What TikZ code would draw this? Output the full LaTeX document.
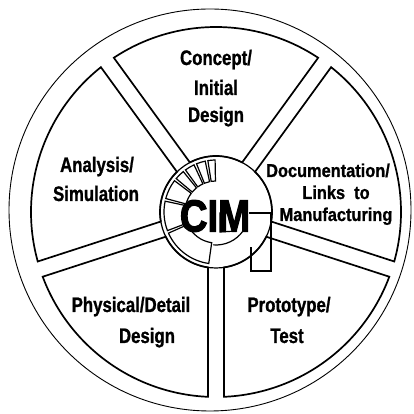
\documentclass[tikz,border=0pt]{standalone}
\usepackage{fontspec}
\newfontfamily\labfont[FakeStretch=0.8, FakeBold=1]{Liberation Sans Bold}
\newfontfamily\docfont[FakeStretch=0.88, FakeBold=1]{Liberation Sans Bold}
\newfontfamily\cimfont[FakeStretch=0.85, FakeBold=2.5]{Liberation Sans Bold}
\begin{document}
\begin{tikzpicture}[x=1pt,y=1pt,
  sector/.style={draw=black, line width=1.7pt, line join=miter},
  rim/.style={draw=black, line width=0.9pt},
  hubline/.style={draw=black, line width=1.2pt},
  lab/.style={font={\labfont\fontsize{21}{25}\selectfont}, inner sep=0pt, anchor=base},
  doclab/.style={font={\docfont\fontsize{18.6}{22}\selectfont}, inner sep=0pt, anchor=base},
  cimlab/.style={font={\cimfont\fontsize{45}{50}\selectfont}, inner sep=0pt, anchor=base}]
\useasboundingbox (0,0) rectangle (413,414);
\coordinate (H) at (216,202);
\coordinate (O) at (210,204);
% outer rim
\draw[rim] (O) circle[radius=201pt];
% five sectors
\foreach \a/\b in {-90/-18, -18/54, 54/126, 126/198, 198/270} {
  \pgfmathsetmacro\ai{\a+8.21}
  \pgfmathsetmacro\ao{\a+2.48}
  \pgfmathsetmacro\bo{\b-2.48}
  \pgfmathsetmacro\bi{\b-8.21}
  \draw[sector] ([shift={(\ai:56pt)}]H) -- ([shift={(\ao:185pt)}]H)
    arc[start angle=\ao, end angle=\bo, radius=185pt]
    -- ([shift={(\bi:56pt)}]H)
    arc[start angle=\bi, end angle=\ai, radius=56pt] -- cycle;
}
% hub
\draw[hubline] (H) circle[radius=56pt];
\foreach \a/\b in {91/99, 102/112, 115/126, 129/140, 143/165, 168/201, 204/262} {
  \draw[hubline] ([shift={(\a:31pt)}]H) -- ([shift={(\a:52pt)}]H)
    arc[start angle=\a, end angle=\b, radius=52pt]
    -- ([shift={(\b:31pt)}]H)
    arc[start angle=\b, end angle=\a, radius=31pt] -- cycle;
}
\draw[hubline] ([shift={(265:33pt)}]H) arc[start angle=265, end angle=325, radius=33pt];
\draw[hubline] (249,201) -- (271,201) -- (271,143) -- (251,143) -- (251,167);
\draw[hubline] (228,201) -- (220,201) -- (220,182) -- (237,183);
% labels
\node[lab] (c1) at (216,349) {Concept/};
\node[lab] (c2) at (216,319) {Initial};
\node[lab] (c3) at (216,292) {Design};
\node[lab] (a1) at (97,242) {Analysis/};
\node[lab] (a2) at (96,213) {Simulation};
\node[doclab] (d1) at (328,237) {Documentation/};
\node[doclab] (d2) at (336,215) {Links\ \ to};
\node[doclab] (d3) at (336,193) {Manufacturing};
\node[lab] (p1) at (131,102) {Physical/Detail};
\node[lab] (p2) at (147,71) {Design};
\node[lab] (t1) at (289,102) {Prototype/};
\node[lab] (t2) at (287,71) {Test};
\node[cimlab] (cim) at (215,182.5) {CIM};
\end{tikzpicture}
\end{document}
